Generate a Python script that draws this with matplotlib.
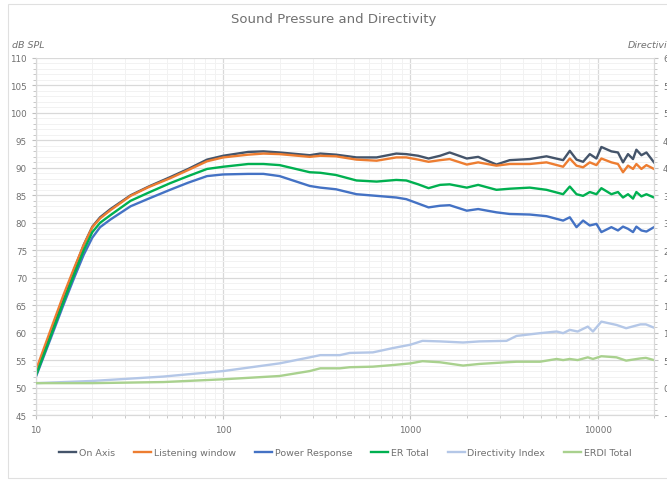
import numpy as np
import matplotlib.pyplot as plt
from matplotlib.ticker import FixedLocator, NullFormatter, MultipleLocator
from matplotlib.patches import Rectangle

# frequency points (Hz) for the SPL curves
freq = [10, 12, 14, 16, 18, 20, 22, 25, 32, 40, 52, 65, 82, 100, 136, 164, 200,
        290, 330, 400, 515, 660, 840, 950, 1100, 1250, 1440, 1620, 2000, 2300,
        2880, 3390, 4340, 5330, 6540, 7100, 7710, 8360, 9080, 9850, 10470,
        11840, 12840, 13660, 14530, 15450, 16100, 17130, 18220, 20000]

on_axis = [52.6, 60.0, 66.3, 71.5, 76.0, 79.3, 81.0, 82.5, 85.0, 86.6, 88.3, 89.8,
           91.5, 92.2, 92.9, 93.0, 92.8, 92.3, 92.6, 92.4, 91.9, 91.9, 92.6, 92.5,
           92.2, 91.7, 92.2, 92.8, 91.7, 92.0, 90.6, 91.4, 91.6, 92.1, 91.4, 93.1,
           91.5, 91.1, 92.5, 91.7, 93.8, 93.0, 92.8, 91.0, 92.5, 91.6, 93.3, 92.3,
           92.8, 91.0]
listening_window = [53.2, 60.6, 66.8, 71.8, 76.0, 79.2, 80.8, 82.3, 84.9, 86.5, 88.1,
                    89.6, 91.2, 91.9, 92.4, 92.6, 92.5, 92.0, 92.2, 92.1, 91.5, 91.3,
                    91.9, 91.9, 91.5, 91.1, 91.4, 91.6, 90.6, 91.0, 90.4, 90.7, 90.7,
                    91.0, 90.2, 91.7, 90.4, 90.1, 91.0, 90.5, 91.7, 91.0, 90.7, 89.2,
                    90.4, 89.8, 90.7, 89.8, 90.5, 89.8]
power_response = [52.0, 59.0, 65.0, 70.0, 74.2, 77.3, 79.2, 80.6, 83.0, 84.4, 86.0,
                  87.3, 88.5, 88.8, 88.9, 88.9, 88.5, 86.7, 86.4, 86.1, 85.2, 84.9,
                  84.6, 84.3, 83.5, 82.8, 83.1, 83.2, 82.2, 82.5, 81.9, 81.6, 81.5,
                  81.2, 80.4, 81.0, 79.2, 80.4, 79.5, 79.8, 78.3, 79.2, 78.6, 79.3,
                  78.9, 78.3, 79.3, 78.6, 78.4, 79.2]
er_total = [52.2, 59.4, 65.5, 70.6, 75.0, 78.3, 80.0, 81.4, 84.0, 85.5, 87.2, 88.5,
            89.8, 90.2, 90.7, 90.7, 90.5, 89.2, 89.1, 88.7, 87.7, 87.5, 87.8, 87.7,
            87.0, 86.3, 86.9, 87.0, 86.4, 86.9, 86.0, 86.2, 86.4, 86.0, 85.2, 86.6,
            85.2, 84.9, 85.6, 85.2, 86.3, 85.2, 85.6, 84.6, 85.2, 84.4, 85.6, 84.8,
            85.2, 84.6]

# frequency points for the directivity curves (right axis, dB)
di_freq = [10, 20, 48, 100, 200, 290, 330, 420, 474, 630, 810, 1000, 1160, 1440,
           1910, 2340, 3260, 3690, 4920, 6040, 6540, 7100, 7820, 8860, 9440, 10470,
           12600, 14200, 16930, 18100, 20000]
directivity_index = [0.8, 1.2, 2.0, 3.0, 4.4, 5.5, 5.9, 5.9, 6.3, 6.4, 7.2, 7.8, 8.5,
                     8.4, 8.2, 8.4, 8.5, 9.4, 9.9, 10.2, 9.9, 10.5, 10.2, 11.1, 10.2,
                     12.0, 11.4, 10.8, 11.5, 11.5, 10.9]
erdi_total = [0.8, 0.8, 1.0, 1.5, 2.1, 3.0, 3.5, 3.5, 3.7, 3.8, 4.1, 4.4, 4.8, 4.6,
              4.0, 4.3, 4.6, 4.7, 4.7, 5.2, 5.0, 5.2, 5.0, 5.5, 5.2, 5.7, 5.5, 4.9,
              5.3, 5.4, 5.0]

decade_labels = ['10', '100', '1000', '10000']
grey = '#707070'

fig = plt.figure(figsize=(6.67, 4.89), dpi=100)
fig.patches.append(Rectangle((8 / 667, 0.02), 1.0, 0.97, transform=fig.transFigure,
                             fill=False, edgecolor='#e0e0e0', linewidth=0.8))
ax = fig.add_axes([36 / 667, 1 - 416 / 489, (654 - 36) / 667, (416 - 59) / 489])
ax2 = ax.twinx()

# SPL curves
ax.plot(freq, on_axis, color='#44546a', lw=1.7, label='On Axis')
ax.plot(freq, listening_window, color='#ed7d31', lw=1.7, label='Listening window')
ax.plot(freq, power_response, color='#4472c4', lw=1.7, label='Power Response')
ax.plot(freq, er_total, color='#00b050', lw=1.7, label='ER Total')
ax2.plot(di_freq, directivity_index, color='#b4c7e7', lw=1.7, label='Directivity Index')
ax2.plot(di_freq, erdi_total, color='#a9d18e', lw=1.7, label='ERDI Total')

ax.set_xscale('log')
ax.set_xlim(10, 20000)
ax.set_ylim(45, 110)
ax2.set_ylim(-5, 60)

ax.xaxis.set_major_locator(FixedLocator([10, 100, 1000, 10000]))
ax.set_xticklabels(decade_labels)
minor = [m * 10 ** d for d in range(1, 5) for m in range(2, 10) if m * 10 ** d <= 20000]
ax.xaxis.set_minor_locator(FixedLocator(minor))
ax.xaxis.set_minor_formatter(NullFormatter())
ax.yaxis.set_major_locator(MultipleLocator(5))
ax.yaxis.set_minor_locator(MultipleLocator(1))
ax2.yaxis.set_major_locator(MultipleLocator(5))
ax2.yaxis.set_minor_locator(MultipleLocator(1))

ax.grid(which='major', color='#d9d9d9', lw=0.9)
ax.grid(which='minor', color='#f2f2f2', lw=0.7)
ax.set_axisbelow(True)

for a in (ax, ax2):
    for s in a.spines.values():
        s.set_visible(False)
ax.spines['left'].set_visible(True)
ax.spines['bottom'].set_visible(True)
ax2.spines['right'].set_visible(True)
for s in (ax.spines['left'], ax.spines['bottom'], ax2.spines['right']):
    s.set_color('#d9d9d9')
    s.set_linewidth(0.9)

ax.tick_params(which='both', colors='#bfbfbf', labelcolor=grey, labelsize=6.3, length=3)
ax.tick_params(which='minor', length=2)
ax2.tick_params(which='both', colors='#bfbfbf', labelcolor=grey, labelsize=6.3, length=3)
ax2.tick_params(which='minor', length=2)
ax.tick_params(axis='x', pad=4)

fig.text(0.5, 1 - 20 / 489, 'Sound Pressure and Directivity', ha='center', va='center',
         color=grey, fontsize=9.5)
fig.text(12 / 667, 1 - 45 / 489, 'dB SPL', ha='left', va='center', color=grey,
         fontsize=6.8, style='italic')
fig.text(628 / 667, 1 - 45 / 489, 'Directivity', ha='left', va='center', color=grey,
         fontsize=6.8, style='italic')

h1, l1 = ax.get_legend_handles_labels()
h2, l2 = ax2.get_legend_handles_labels()
fig.legend(h1 + h2, l1 + l2, loc='center', ncol=6, bbox_to_anchor=(0.518, 1 - 454 / 489),
           frameon=False, fontsize=6.8, handlelength=1.8, columnspacing=2.0,
           handletextpad=0.3, labelcolor=grey)

fig.savefig('out.png', dpi=100)
